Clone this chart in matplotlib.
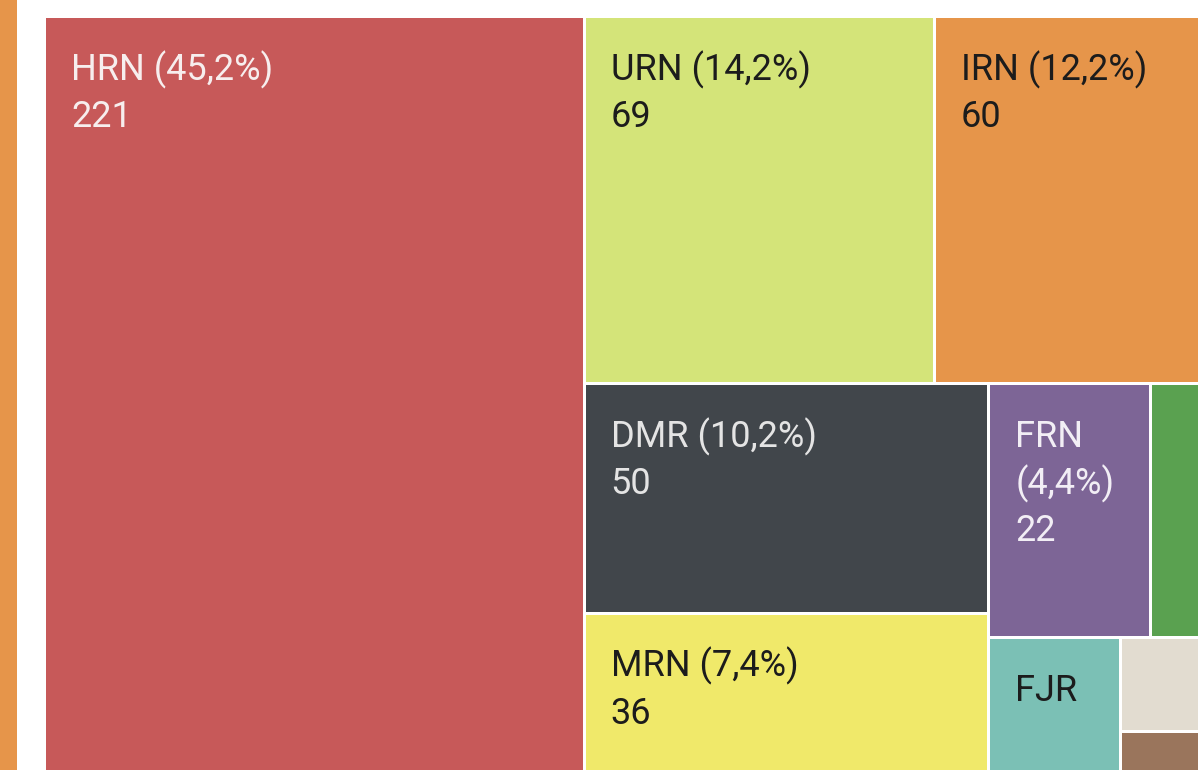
import matplotlib
matplotlib.use('Agg')
import matplotlib.pyplot as plt
from matplotlib.patches import Rectangle

# Data; the small unlabelled tiles have no readable name
names = ['HRN', 'URN', 'IRN', 'DMR', 'MRN', 'FRN', '', 'FJR', '', '', '']
values = [221, 69, 60, 50, 36, 22, 12, 10, 6, 2, 1]
shares = ['45,2%', '14,2%', '12,2%', '10,2%', '7,4%', '4,4%', '2,5%', '2,0%', '1,2%', '0,4%', '0,2%']
colors = ['#c75959', '#d4e479', '#e6954a', '#41464b', '#f0e96a', '#7d6596',
          '#5aa150', '#7bc0b5', '#e2dcd0', '#9a755c', '#b0b0b0']
text_colors = ['#f7eeee', '#1c1c1c', '#1c1c1c', '#e4e4e4', '#1c1c1c', '#f2eef5',
               '#ffffff', '#1c1c1c', '#1c1c1c', '#ffffff', '#1c1c1c']

PHI = (1 + 5 ** 0.5) / 2


def squarify(vals, x0, y0, x1, y1, ratio=PHI):
    # same row logic as d3.treemapSquarify (golden ratio target)
    rects = []
    total = float(sum(vals))
    n = len(vals)
    i0 = 0
    while i0 < n:
        dx, dy = x1 - x0, y1 - y0
        i1 = i0 + 1
        s = mn = mx = vals[i0]
        alpha = max(dy / dx, dx / dy) / (total * ratio)
        beta = s * s * alpha
        best = max(mx / beta, beta / mn)
        while i1 < n:
            v = vals[i1]
            s2 = s + v
            beta = s2 * s2 * alpha
            r = max(max(mx, v) / beta, beta / min(mn, v))
            if r > best:
                break
            s, mn, mx, best = s2, min(mn, v), max(mx, v), r
            i1 += 1
        row = vals[i0:i1]
        if dx < dy:  # horizontal row along the top
            yb = y0 + dy * s / total if i1 < n else y1
            x = x0
            for v in row:
                w = dx * v / s
                rects.append((x, y0, w, yb - y0))
                x += w
            y0 = yb
        else:  # vertical column on the left
            xb = x0 + dx * s / total if i1 < n else x1
            y = y0
            for v in row:
                h = dy * v / s
                rects.append((x0, y, xb - x0, h))
                y += h
            x0 = xb
        total -= s
        i0 = i1
    return rects


fig = plt.figure(figsize=(11.98, 7.70), dpi=100)
ax = fig.add_axes([0, 0, 1, 1])
ax.set_xlim(0, 1198)
ax.set_ylim(770, 0)
ax.axis('off')

# strip of the neighbouring element on the left edge
ax.add_patch(Rectangle((0, 0), 17, 770, color='#e6954a', lw=0))

gap = 1.5
rects = squarify(values, 44.5, 16.5, 44.5 + 1194, 16.5 + 762.5)

fs = 26
line = 47
for (x, y, w, h), name, val, sh, c, tc in zip(rects, names, values, shares, colors, text_colors):
    ax.add_patch(Rectangle((x + gap, y + gap), w - 2 * gap, h - 2 * gap, color=c, lw=0))
    if not name:
        continue
    if w > 220:
        lines = [f'{name} ({sh})', str(val)]
    else:
        lines = [name, f'({sh})', str(val)]
    if 62 + line * (len(lines) - 1) + 20 > h:
        lines = lines[:1]
    for k, t in enumerate(lines):
        ax.text(x + gap + 25, y + gap + 62 + k * line, t, fontsize=fs,
                family='Roboto', color=tc, va='baseline', ha='left')

fig.savefig('out.png', dpi=100)
